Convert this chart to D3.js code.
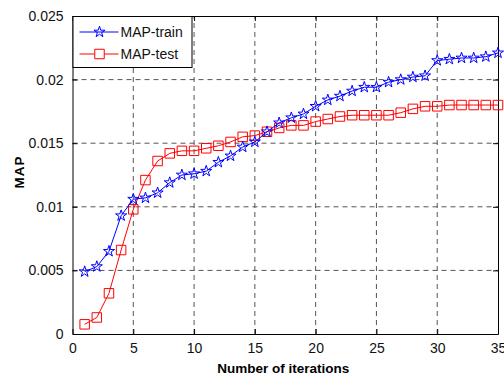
<!DOCTYPE html>
<html>
<head>
<meta charset="utf-8">
<script src="https://cdn.jsdelivr.net/npm/d3@7/dist/d3.min.js"></script>
<style>
  body { margin: 0; background: #fff; }
  text { font-family: Arial, "Liberation Sans", sans-serif; }
</style>
</head>
<body>
<script>
// iterations 1..35
const iterations = d3.range(1, 36)

// MAP curves
const mapTrain = [0.0049, 0.0053, 0.0065, 0.0093, 0.0106, 0.0107, 0.0111, 0.0119, 0.0125, 0.0126,
    0.0128, 0.0135, 0.0140, 0.0147, 0.0151, 0.0159, 0.0166, 0.0170, 0.0173, 0.0179,
    0.0184, 0.0187, 0.0191, 0.0194, 0.0194, 0.0198, 0.0200, 0.0202, 0.0203, 0.0215,
    0.0216, 0.0217, 0.0217, 0.0218, 0.0221]
const mapTest = [0.00076, 0.0013, 0.0032, 0.0066, 0.0098, 0.0121, 0.0136, 0.0142, 0.0144, 0.0144,
    0.0146, 0.0148, 0.0151, 0.0155, 0.0156, 0.0159, 0.0162, 0.0164, 0.0164, 0.0167,
    0.0169, 0.0171, 0.0172, 0.0172, 0.0172, 0.0172, 0.0174, 0.0177, 0.0179, 0.0179,
    0.0180, 0.0180, 0.0180, 0.0180, 0.0180]

const xTicks = [0, 5, 10, 15, 20, 25, 30, 35]
const yTicks = [0, 0.005, 0.01, 0.015, 0.02, 0.025]
const yTickLabels = ['0', '0.005', '0.01', '0.015', '0.02', '0.025']

const width = 504, height = 377
const margin = {left: 72.5, right: 6, top: 16, bottom: 43}

const svg = d3.select('body').append('svg').attr('width', width).attr('height', height)

const x = d3.scaleLinear().domain([0, 35]).range([margin.left, width - margin.right])
const y = d3.scaleLinear().domain([0, 0.025]).range([height - margin.bottom, margin.top])

const x0 = x.range()[0], x1 = x.range()[1], y0 = y.range()[0], y1 = y.range()[1]

// сетка
const grid = svg.append('g').attr('stroke', '#555').attr('stroke-width', 1)
    .attr('stroke-dasharray', '5,4')
grid.selectAll('.gx').data(xTicks.slice(1, -1)).join('line')
    .attr('x1', d => x(d)).attr('x2', d => x(d)).attr('y1', y0).attr('y2', y1)
grid.selectAll('.gy').data(yTicks.slice(1, -1)).join('line')
    .attr('class', 'gy')
    .attr('y1', d => y(d)).attr('y2', d => y(d)).attr('x1', x0).attr('x2', x1)

// оси, тики внутрь
const tickLen = 5
const fmtY = d => yTickLabels[yTicks.indexOf(d)]
svg.append('g').attr('transform', `translate(0,${y0})`)
    .call(d3.axisBottom(x).tickValues(xTicks).tickSize(-tickLen).tickPadding(9).tickSizeOuter(0))
svg.append('g').attr('transform', `translate(0,${y1})`)
    .call(d3.axisTop(x).tickValues(xTicks).tickSize(-tickLen).tickFormat('').tickSizeOuter(0))
svg.append('g').attr('transform', `translate(${x0},0)`)
    .call(d3.axisLeft(y).tickValues(yTicks).tickFormat(fmtY).tickSize(-tickLen).tickPadding(9).tickSizeOuter(0))
svg.append('g').attr('transform', `translate(${x1},0)`)
    .call(d3.axisRight(y).tickValues(yTicks).tickFormat('').tickSize(-tickLen).tickSizeOuter(0))

svg.selectAll('.tick text').attr('font-size', 14).attr('fill', '#111')
    .attr('font-family', 'Arial, "Liberation Sans", sans-serif')
svg.selectAll('.domain').attr('stroke', '#000')
svg.selectAll('.tick line').attr('stroke', '#000')

// подписи осей
svg.append('text').attr('x', (x0 + x1) / 2 - 2).attr('y', 373)
    .attr('text-anchor', 'middle').attr('font-size', 13.5).attr('font-weight', 'bold')
    .text('Number of iterations')
svg.append('text').attr('transform', `translate(24,172) rotate(-90)`)
    .attr('text-anchor', 'middle').attr('font-size', 13.5).attr('font-weight', 'bold')
    .attr('letter-spacing', 1)
    .text('MAP')

const star = d3.symbol().type(d3.symbolStar).size(38)
const square = d3.symbol().type(d3.symbolSquare).size(90)

const line = d3.line().x((d, i) => x(iterations[i])).y(d => y(d))

// MAP-test
svg.append('path').datum(mapTest).attr('d', line)
    .attr('fill', 'none').attr('stroke', '#ff0000').attr('stroke-width', 1)
svg.append('g').selectAll('path').data(mapTest).join('path')
    .attr('transform', (d, i) => `translate(${x(iterations[i])},${y(d)})`)
    .attr('d', square).attr('fill', 'none').attr('stroke', '#ff0000').attr('stroke-width', 1)

// MAP-train
svg.append('path').datum(mapTrain).attr('d', line)
    .attr('fill', 'none').attr('stroke', '#0000ff').attr('stroke-width', 1)
svg.append('g').selectAll('path').data(mapTrain).join('path')
    .attr('transform', (d, i) => `translate(${x(iterations[i])},${y(d)})`)
    .attr('d', star).attr('fill', 'none').attr('stroke', '#0000ff').attr('stroke-width', 1)

// легенда
const lg = svg.append('g').attr('transform', `translate(${x0},${y1})`)
lg.append('rect').attr('x', 0.5).attr('y', 0.5).attr('width', 119).attr('height', 51)
    .attr('fill', '#fff').attr('stroke', '#000')
const items = [
    {name: 'MAP-train', color: '#0000ff', sym: star},
    {name: 'MAP-test', color: '#ff0000', sym: square}
]
items.forEach((it, i) => {
    const cy = 16 + i * 22
    lg.append('line').attr('x1', 7).attr('x2', 46).attr('y1', cy).attr('y2', cy)
        .attr('stroke', it.color)
    lg.append('path').attr('d', it.sym)
        .attr('transform', `translate(27,${cy})`)
        .attr('fill', i ? '#fff' : 'none').attr('stroke', it.color)
    lg.append('text').attr('x', 48).attr('y', cy + 5).attr('font-size', 14).attr('fill', '#111')
        .text(it.name)
})
</script>
</body>
</html>
